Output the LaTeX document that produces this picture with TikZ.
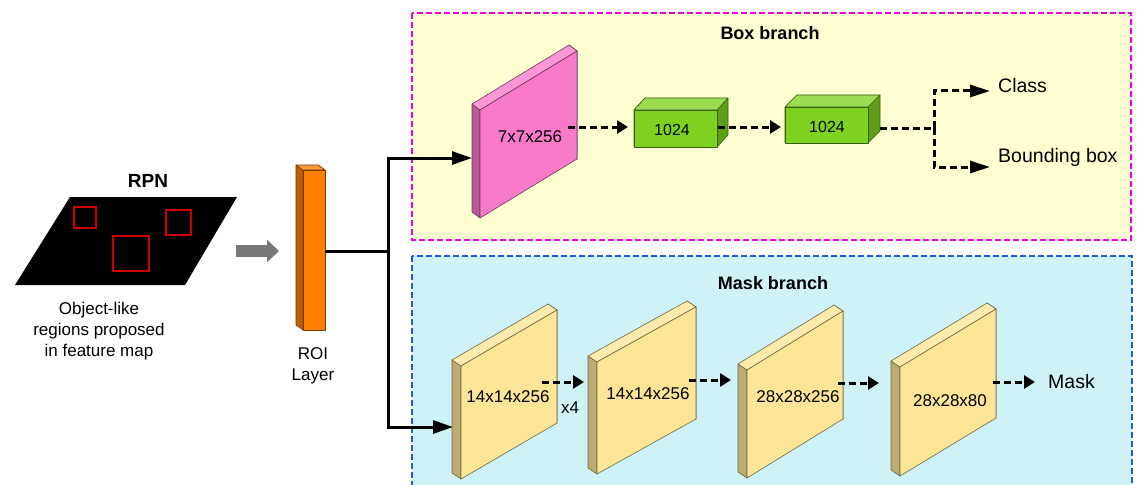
\documentclass[tikz,border=0pt]{standalone}
\usepackage{xcolor}
\usepackage{tikz}
\usepackage{fontspec}
\setmainfont{Liberation Sans}
\usetikzlibrary{arrows.meta, calc, positioning}

\definecolor{roiorange}{RGB}{255,128,0}
\definecolor{pinkplate}{RGB}{248,122,200}
\definecolor{fcgreen}{RGB}{126,211,33}
\definecolor{maskplate}{RGB}{252,229,150}
\definecolor{boxpanel}{RGB}{255,255,210}
\definecolor{maskpanel}{RGB}{207,242,247}
\definecolor{boxedge}{RGB}{238,0,220}
\definecolor{maskedge}{RGB}{30,90,230}
\definecolor{roiarrow}{RGB}{120,120,120}

% a flat 3d block: #1 name, #2 front top-left corner, #3 width, #4 height,
% #5 rise of the right edge, #6 depth shift, #7 colour
\newcommand{\slab}[7]{%
  \coordinate (#1-tl) at #2;
  \coordinate (#1-tr) at ($(#1-tl)+(#3,-#5)$);
  \coordinate (#1-br) at ($(#1-tr)+(0,#4)$);
  \coordinate (#1-bl) at ($(#1-tl)+(0,#4)$);
  \filldraw[face, draw=#7!45!black, fill=#7!75!black] (#1-tl) -- (#1-bl) -- ($(#1-bl)+(#6)$) -- ($(#1-tl)+(#6)$) -- cycle;
  \filldraw[face, draw=#7!45!black, fill=#7!75!black] (#1-tr) -- (#1-br) -- ($(#1-br)+(#6)$) -- ($(#1-tr)+(#6)$) -- cycle;
  \filldraw[face, draw=#7!45!black, fill=#7!78!white] (#1-tl) -- (#1-tr) -- ($(#1-tr)+(#6)$) -- ($(#1-tl)+(#6)$) -- cycle;
  \filldraw[face, draw=#7!45!black, fill=#7] (#1-tl) -- (#1-tr) -- (#1-br) -- (#1-bl) -- cycle;
  \coordinate (#1) at ($(#1-tl)!0.5!(#1-br)$);
}

\begin{document}
\begin{tikzpicture}[
    x=1pt, y=-1pt,
    face/.style = {line width=0.6pt, line join=round},
    panel/.style = {line width=2.8pt, dash pattern=on 6pt off 3pt},
    title/.style = {font=\bfseries\fontsize{18}{21}\selectfont},
    dims/.style = {font=\fontsize{17}{20}\selectfont},
    note/.style = {font=\fontsize{17}{21}\selectfont, align=center},
    outlabel/.style = {font=\fontsize{19.5}{23}\selectfont, anchor=west, inner sep=0pt},
    link/.style = {line width=3pt, -{Triangle[length=20pt, width=13pt]}},
    flow/.style = {line width=3pt, dash pattern=on 7pt off 4pt, -{Triangle[length=11pt, width=13pt]}},
    split/.style = {line width=3pt, dash pattern=on 7pt off 4pt, -{Triangle[length=20pt, width=12pt]}}
]
\useasboundingbox (0,0) rectangle (1139,484);

% the two heads
\draw[panel, draw=boxedge, fill=boxpanel] (412,13) rectangle (1131,240);
\draw[panel, draw=maskedge, fill=maskpanel] (412,256) rectangle (1132,500);
\node[title] (boxtitle) at (770,33) {Box branch};
\node[title] (masktitle) at (773,283) {Mask branch};

% RPN feature map with proposals
\node[title, font=\bfseries\fontsize{19}{22}\selectfont] (rpn) at (148,181) {RPN};
\fill[black] (70,197) -- (237,197) -- (185,285) -- (15,285) -- cycle;
\filldraw[draw=red!80!black, line width=1.2pt, fill=black] (74,207) rectangle (96,228);
\filldraw[draw=red!80!black, line width=1.2pt, fill=black] (166,210) rectangle (191,235);
\filldraw[draw=red!80!black, line width=1.2pt, fill=black] (113,236) rectangle (149,271);
\node[note] (regions) at (99,331) {Object-like\\regions proposed\\in feature map};

\coordinate (rpn-out) at (236,251);
\coordinate (roi-in) at (279,251);
\draw[line width=12pt, roiarrow, -{Triangle[length=12pt, width=22pt]}] (rpn-out) -- (roi-in);

% ROI layer
\slab{roi}{(303,170)}{22}{160}{0}{-7,-5}{roiorange}
\node[note] (roilbl) at (313,366) {ROI\\Layer};

% box branch
\slab{pink}{(480,110)}{97}{108}{59}{-8,-6}{pinkplate}
\node[dims] (pinklbl) at (530,137) {7x7x256};
\slab{fc1}{(634,110)}{83}{37}{0}{11,-12}{fcgreen}
\node[dims, font=\fontsize{16}{19}\selectfont] (fc1lbl) at (672,130) {1024};
\slab{fc2}{(785,107)}{83}{36}{0}{12,-12}{fcgreen}
\node[dims, font=\fontsize{16}{19}\selectfont] (fc2lbl) at (827,127) {1024};
\node[outlabel] (cls) at (998,86) {Class};
\node[outlabel] (bbox) at (998,157) {Bounding box};

% mask branch
\slab{m1}{(461,366)}{96}{113}{56}{-9,-6}{maskplate}
\slab{m2}{(597,362)}{99}{112}{55}{-9,-6}{maskplate}
\slab{m3}{(747,370)}{96}{108}{59}{-9,-6}{maskplate}
\slab{m4}{(900,367)}{96}{109}{58}{-9,-6}{maskplate}
\node[dims] (m1lbl) at (508,397) {14x14x256};
\node[dims] (m2lbl) at (648,394) {14x14x256};
\node[dims] (m3lbl) at (798,397) {28x28x256};
\node[dims] (m4lbl) at (950,401) {28x28x80};
\node[dims] (rep) at (570,408) {x4};
\node[outlabel] (mask) at (1048,382) {Mask};

% ROI output splits into both heads
\coordinate (roi-out) at (325,251);
\coordinate (fork) at (388,251);
\coordinate (pink-in) at (472,158);
\coordinate (m1-in) at (453,427);
\draw[link] (roi-out) -- (fork) |- (pink-in);
\draw[link] (fork) |- (m1-in);

% box branch flow
\coordinate (pink-out) at (568,127);
\coordinate (fc1-in) at (628,127);
\coordinate (fc1-out) at (718,127);
\coordinate (fc2-in) at (781,127);
\coordinate (fc2-out) at (880,128);
\coordinate (bsplit) at (934,128);
\coordinate (cls-in) at (990,91);
\coordinate (bbox-in) at (990,167);
\draw[flow] (pink-out) -- (fc1-in);
\draw[flow] (fc1-out) -- (fc2-in);
\draw[line width=3pt, dash pattern=on 7pt off 4pt] (fc2-out) -- (bsplit);
\draw[split] (bsplit) |- (cls-in);
\draw[split] (bsplit) |- (bbox-in);

% mask branch flow
\coordinate (m1-out) at (542,382);
\coordinate (m2-in) at (584,382);
\coordinate (m2-out) at (689,380);
\coordinate (m3-in) at (731,380);
\coordinate (m3-out) at (838,383);
\coordinate (m4-in) at (879,383);
\coordinate (m4-out) at (993,382);
\coordinate (mask-in) at (1035,382);
\draw[flow] (m1-out) -- (m2-in);
\draw[flow] (m2-out) -- (m3-in);
\draw[flow] (m3-out) -- (m4-in);
\draw[flow] (m4-out) -- (mask-in);

\end{tikzpicture}
\end{document}
